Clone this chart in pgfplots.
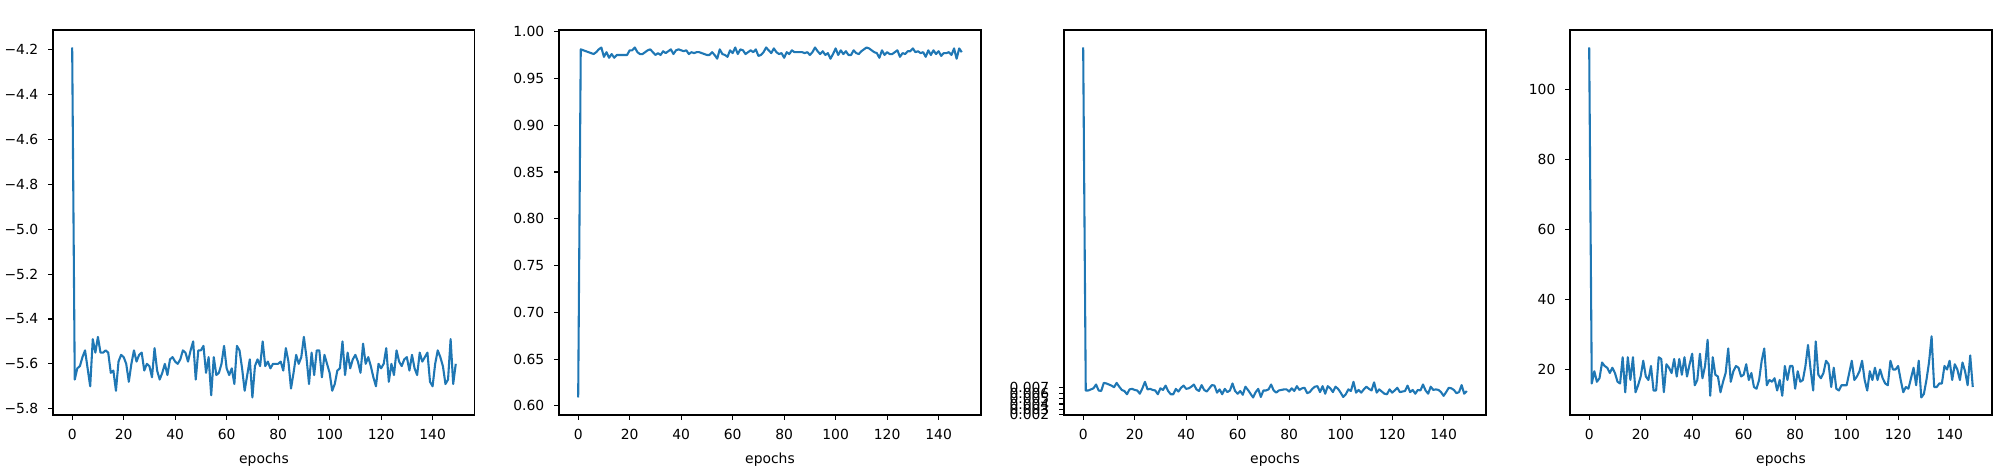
\documentclass[border=0pt]{standalone}
\usepackage{pgfplots}
\pgfplotsset{compat=1.18}
\usepackage{pgfplotstable}
\usepackage{fontspec}
\setmainfont{DejaVu Sans}
\definecolor{mplblue}{HTML}{1F77B4}
\pgfplotstableread[row sep=\\]{
y\\
-4.19\\ -5.67\\ -5.62\\ -5.61\\ -5.57\\ -5.54\\ -5.62\\ -5.70\\ -5.49\\ -5.55\\
-5.48\\ -5.55\\ -5.55\\ -5.54\\ -5.55\\ -5.64\\ -5.63\\ -5.72\\ -5.59\\ -5.56\\
-5.57\\ -5.60\\ -5.68\\ -5.60\\ -5.54\\ -5.59\\ -5.56\\ -5.55\\ -5.63\\ -5.60\\
-5.61\\ -5.66\\ -5.53\\ -5.63\\ -5.67\\ -5.64\\ -5.60\\ -5.65\\ -5.58\\ -5.57\\
-5.59\\ -5.60\\ -5.58\\ -5.54\\ -5.55\\ -5.59\\ -5.54\\ -5.50\\ -5.67\\ -5.54\\
-5.54\\ -5.52\\ -5.64\\ -5.57\\ -5.74\\ -5.57\\ -5.65\\ -5.64\\ -5.60\\ -5.52\\
-5.62\\ -5.65\\ -5.62\\ -5.69\\ -5.52\\ -5.54\\ -5.62\\ -5.72\\ -5.65\\ -5.58\\
-5.75\\ -5.61\\ -5.58\\ -5.61\\ -5.50\\ -5.61\\ -5.59\\ -5.62\\ -5.60\\ -5.60\\
-5.60\\ -5.59\\ -5.63\\ -5.53\\ -5.59\\ -5.71\\ -5.64\\ -5.56\\ -5.60\\ -5.57\\
-5.48\\ -5.57\\ -5.69\\ -5.55\\ -5.65\\ -5.54\\ -5.54\\ -5.66\\ -5.56\\ -5.60\\
-5.64\\ -5.72\\ -5.69\\ -5.63\\ -5.62\\ -5.50\\ -5.65\\ -5.55\\ -5.62\\ -5.58\\
-5.56\\ -5.59\\ -5.64\\ -5.51\\ -5.60\\ -5.57\\ -5.61\\ -5.66\\ -5.70\\ -5.60\\
-5.62\\ -5.60\\ -5.53\\ -5.68\\ -5.60\\ -5.65\\ -5.54\\ -5.59\\ -5.61\\ -5.58\\
-5.57\\ -5.63\\ -5.56\\ -5.62\\ -5.65\\ -5.55\\ -5.59\\ -5.57\\ -5.55\\ -5.68\\
-5.70\\ -5.60\\ -5.54\\ -5.57\\ -5.61\\ -5.69\\ -5.67\\ -5.49\\ -5.69\\ -5.60\\
}\rmse
\pgfplotstableread[row sep=\\]{
y\\
0.609\\ 0.981\\ 0.980\\ 0.979\\ 0.978\\ 0.977\\ 0.976\\ 0.978\\ 0.981\\ 0.983\\
0.973\\ 0.978\\ 0.972\\ 0.976\\ 0.972\\ 0.975\\ 0.975\\ 0.975\\ 0.975\\ 0.975\\
0.980\\ 0.980\\ 0.983\\ 0.978\\ 0.976\\ 0.976\\ 0.978\\ 0.980\\ 0.981\\ 0.978\\
0.975\\ 0.977\\ 0.975\\ 0.979\\ 0.977\\ 0.979\\ 0.981\\ 0.976\\ 0.980\\ 0.981\\
0.980\\ 0.979\\ 0.980\\ 0.976\\ 0.978\\ 0.977\\ 0.978\\ 0.978\\ 0.977\\ 0.976\\
0.975\\ 0.975\\ 0.978\\ 0.975\\ 0.971\\ 0.981\\ 0.976\\ 0.975\\ 0.973\\ 0.980\\
0.977\\ 0.983\\ 0.976\\ 0.981\\ 0.980\\ 0.976\\ 0.978\\ 0.980\\ 0.978\\ 0.981\\
0.974\\ 0.975\\ 0.978\\ 0.983\\ 0.980\\ 0.977\\ 0.982\\ 0.978\\ 0.976\\ 0.977\\
0.972\\ 0.978\\ 0.976\\ 0.980\\ 0.978\\ 0.978\\ 0.978\\ 0.978\\ 0.977\\ 0.978\\
0.975\\ 0.978\\ 0.983\\ 0.979\\ 0.976\\ 0.979\\ 0.975\\ 0.977\\ 0.971\\ 0.976\\
0.982\\ 0.975\\ 0.980\\ 0.976\\ 0.979\\ 0.975\\ 0.975\\ 0.980\\ 0.977\\ 0.976\\
0.979\\ 0.981\\ 0.983\\ 0.982\\ 0.980\\ 0.978\\ 0.977\\ 0.972\\ 0.980\\ 0.975\\
0.978\\ 0.976\\ 0.976\\ 0.978\\ 0.980\\ 0.973\\ 0.977\\ 0.976\\ 0.979\\ 0.979\\
0.982\\ 0.978\\ 0.979\\ 0.977\\ 0.978\\ 0.973\\ 0.980\\ 0.975\\ 0.980\\ 0.976\\
0.979\\ 0.974\\ 0.977\\ 0.977\\ 0.978\\ 0.975\\ 0.982\\ 0.971\\ 0.982\\ 0.978\\
}\ssim
\pgfplotstableread[row sep=\\]{
y\\
70.0\\ 6.5\\ 6.5\\ 6.7\\ 6.9\\ 7.6\\ 6.5\\ 6.4\\ 7.9\\ 7.8\\
7.6\\ 7.4\\ 7.1\\ 7.9\\ 7.2\\ 6.6\\ 6.4\\ 5.8\\ 6.7\\ 6.8\\
6.6\\ 6.5\\ 5.9\\ 6.9\\ 8.1\\ 6.7\\ 6.8\\ 6.6\\ 6.5\\ 5.8\\
6.9\\ 6.6\\ 7.4\\ 6.4\\ 5.8\\ 5.8\\ 6.8\\ 6.3\\ 7.0\\ 7.4\\
6.8\\ 6.9\\ 7.2\\ 7.6\\ 6.7\\ 6.4\\ 7.5\\ 6.6\\ 6.3\\ 6.9\\
7.5\\ 7.4\\ 6.1\\ 6.7\\ 5.8\\ 6.8\\ 6.2\\ 6.5\\ 7.8\\ 6.4\\
5.9\\ 6.4\\ 5.7\\ 7.2\\ 6.6\\ 5.9\\ 5.2\\ 6.2\\ 6.8\\ 5.3\\
6.5\\ 6.5\\ 6.7\\ 7.6\\ 6.5\\ 6.1\\ 6.5\\ 6.6\\ 6.7\\ 6.7\\
6.3\\ 6.9\\ 6.4\\ 7.3\\ 6.6\\ 6.9\\ 7.0\\ 6.0\\ 6.2\\ 6.8\\
7.2\\ 7.3\\ 6.2\\ 7.3\\ 5.9\\ 7.3\\ 6.9\\ 6.2\\ 7.2\\ 6.8\\
6.1\\ 5.3\\ 5.8\\ 6.7\\ 6.4\\ 8.1\\ 6.1\\ 6.6\\ 6.1\\ 6.7\\
7.2\\ 6.8\\ 6.5\\ 8.0\\ 6.1\\ 6.7\\ 6.3\\ 5.9\\ 5.8\\ 6.7\\
6.1\\ 6.5\\ 7.0\\ 6.2\\ 6.3\\ 6.4\\ 7.4\\ 6.2\\ 6.6\\ 5.9\\
6.6\\ 6.5\\ 7.6\\ 6.5\\ 5.9\\ 7.2\\ 6.6\\ 6.7\\ 6.6\\ 6.2\\
5.5\\ 6.2\\ 7.0\\ 6.9\\ 6.6\\ 6.0\\ 6.2\\ 7.5\\ 5.9\\ 6.4\\
}\epe
\pgfplotstableread[row sep=\\]{
y\\
112\\ 16\\ 19.5\\ 16.5\\ 17.5\\ 22\\ 21\\ 20.5\\ 19\\ 20.5\\
19\\ 16.5\\ 16\\ 23.5\\ 13.5\\ 23.5\\ 17\\ 23.5\\ 13.5\\ 15.5\\
18\\ 22.5\\ 18\\ 17\\ 21\\ 14\\ 14\\ 23.5\\ 23\\ 13.5\\
21.5\\ 20.5\\ 19\\ 23\\ 18\\ 23\\ 18.5\\ 23.5\\ 18\\ 21.5\\
24.5\\ 15.5\\ 17\\ 24.5\\ 17.5\\ 21\\ 28.5\\ 12.5\\ 23.5\\ 18.5\\
18\\ 13.5\\ 16.5\\ 19\\ 26\\ 16.5\\ 19.5\\ 21\\ 20.5\\ 18\\
18.5\\ 21.5\\ 17\\ 19\\ 15\\ 14.5\\ 17\\ 22.5\\ 26\\ 15.5\\
17\\ 16.5\\ 17.5\\ 14\\ 17\\ 12.5\\ 21\\ 17\\ 21\\ 21\\
14.5\\ 19.5\\ 16.5\\ 17\\ 21\\ 27\\ 20\\ 14\\ 28\\ 18.5\\
17.5\\ 19\\ 22.5\\ 21.5\\ 15\\ 20.5\\ 14.5\\ 14\\ 15.5\\ 15.5\\
15.5\\ 19\\ 22.5\\ 17\\ 18\\ 19.5\\ 22.5\\ 17\\ 14\\ 19.5\\
17\\ 20.5\\ 17\\ 20\\ 17.5\\ 16\\ 15.5\\ 22.5\\ 20\\ 20\\
21\\ 17\\ 13.5\\ 15\\ 14.5\\ 17.5\\ 20.5\\ 15.5\\ 22.5\\ 12\\
13\\ 17\\ 22\\ 29.5\\ 15\\ 15\\ 16\\ 16\\ 21\\ 20\\
22.5\\ 17\\ 21.5\\ 20\\ 17\\ 22\\ 19.5\\ 15.5\\ 24\\ 15\\
}\aae
\pgfplotsset{
  mystyle/.style={
    width=151.9pt, height=138.6pt, scale only axis,
    anchor=south west,
    xmin=-7.45, xmax=156.45, enlarge y limits=0.05,
    xtick={0,20,...,140},
    xticklabels={0,20,40,60,80,100,120,140},
    tick align=outside, tick pos=left,
    major tick length=1.75pt,
    every tick/.style={black, line width=0.4pt},
    axis line style={line width=0.4pt},
    tick label style={font=\fontsize{5}{6}\selectfont},
    xticklabel style={yshift=0.3pt},
    label style={font=\fontsize{5}{6}\selectfont},
    xlabel={epochs},
    xlabel style={yshift=2pt},
    title style={font=\fontsize{6}{7}\selectfont, at={(0.5,1)}, anchor=south, yshift=1.5pt},
  },
  myline/.style={mplblue, line width=0.75pt, no marks, line join=round},
}
\begin{document}
\begin{tikzpicture}
\useasboundingbox (0,0) rectangle (720pt,168.48pt);
\begin{axis}[mystyle, at={(19.08pt,19.08pt)}, title={RMSE (log)},
  ytick={-5.8,-5.6,-5.4,-5.2,-5.0,-4.8,-4.6,-4.4,-4.2},
  yticklabels={−5.8,−5.6,−5.4,−5.2,−5.0,−4.8,−4.6,−4.4,−4.2}]
\addplot[myline] table[x expr=\coordindex, y=y] {\rmse};
\end{axis}
\begin{axis}[mystyle, at={(201.24pt,19.08pt)}, title={SSIM},
  ytick={0.60,0.65,0.70,0.75,0.80,0.85,0.90,0.95,1.00},
  yticklabels={0.60,0.65,0.70,0.75,0.80,0.85,0.90,0.95,1.00}]
\addplot[myline] table[x expr=\coordindex, y=y] {\ssim};
\end{axis}
\begin{axis}[mystyle, at={(383.04pt,19.08pt)}, title={EPE},
  ytick={1,2,3,4,5,6,7},
  yticklabels={0.001,0.002,0.003,0.004,0.005,0.006,0.007}]
\addplot[myline] table[x expr=\coordindex, y=y] {\epe};
\end{axis}
\begin{axis}[mystyle, at={(565.2pt,19.08pt)}, title={AAE},
  ytick={20,40,60,80,100},
  yticklabels={20,40,60,80,100}]
\addplot[myline] table[x expr=\coordindex, y=y] {\aae};
\end{axis}
\end{tikzpicture}
\end{document}
